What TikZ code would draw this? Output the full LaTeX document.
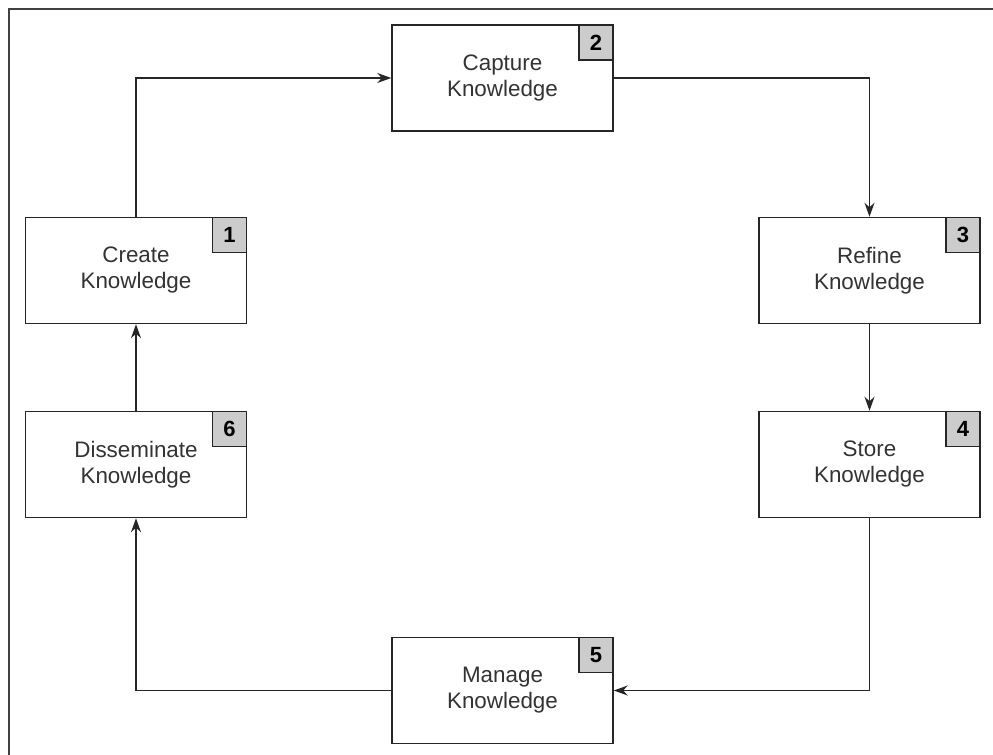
\documentclass[tikz,border=0pt]{standalone}
\usepackage{fontspec}
\setmainfont{Liberation Sans}
\usetikzlibrary{arrows.meta}

\begin{document}
\begin{tikzpicture}[x=0.5pt, y=-0.5pt]
% Knowledge cycle, drawn in pixel units (y runs down)
\providecommand{\kcLineColor}{black!85}
\providecommand{\kcBadgeColor}{black!20}
\providecommand{\kcFrameColor}{black!75}
\tikzset{
  stage/.style={draw=\kcLineColor, line width=0.75pt, fill=white,
    minimum width=110.5pt, minimum height=53pt, inner sep=0pt,
    align=center, text=black!80,
    font=\fontsize{11.2}{13}\selectfont},
  badge/.style={draw=\kcLineColor, line width=0.75pt, fill=\kcBadgeColor,
    minimum width=17pt, minimum height=17.5pt, inner sep=0pt,
    anchor=north east, font=\fontsize{11}{11}\selectfont\bfseries},
  flow/.style={draw=\kcLineColor, line width=0.6pt,
    -{Stealth[length=7pt, width=5pt]}},
}
\useasboundingbox (0,0) rectangle (993,755);
% Outer frame, top and left only
\draw[\kcFrameColor, line width=1pt] (9,755) -- (9,9) -- (993,9);
% Stages
\node[stage] (create)  at (136,270.5)   {Create\\Knowledge};
\node[stage] (capture) at (502.5,78)    {Capture\\Knowledge};
\node[stage] (refine)  at (869.5,270.5) {Refine\\Knowledge};
\node[stage] (store)   at (869.5,464.5) {Store\\Knowledge};
\node[stage] (manage)  at (502.5,690.5) {Manage\\Knowledge};
\node[stage] (dissem)  at (136,464.5)   {Disseminate\\Knowledge};
% Step numbers
\node[badge] (n1) at (create.north east)  {1};
\node[badge] (n2) at (capture.north east) {2};
\node[badge] (n3) at (refine.north east)  {3};
\node[badge] (n4) at (store.north east)   {4};
\node[badge] (n5) at (manage.north east)  {5};
\node[badge] (n6) at (dissem.north east)  {6};
% Cycle
\draw[flow] (create.north) |- (capture.west);
\draw[flow] (capture.east) -| (refine.north);
\draw[flow] (refine) -- (store);
\draw[flow] (store.south) |- (manage.east);
\draw[flow] (manage.west) -| (dissem.south);
\draw[flow] (dissem) -- (create);
\end{tikzpicture}
\end{document}
